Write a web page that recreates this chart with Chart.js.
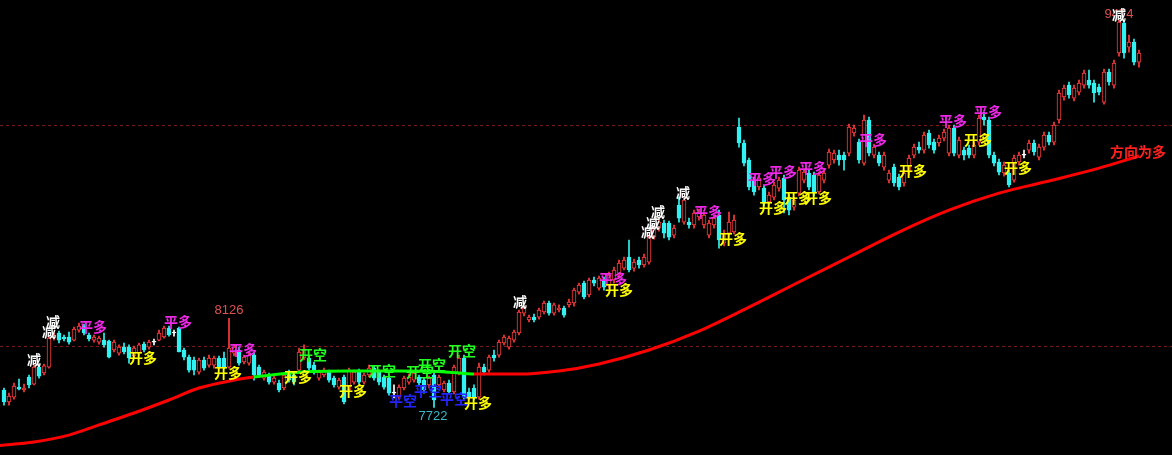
<!DOCTYPE html>
<html>
<head>
<meta charset="utf-8">
<script src="https://cdn.jsdelivr.net/npm/chart.js@4"></script>
<style>
  html, body { margin: 0; padding: 0; background: #000; overflow: hidden; }
</style>
</head>
<body>
<canvas id="kline" width="1172" height="455"></canvas>
<script>
// K线数据 (开/高/低/收)
const opens = [
  7801,7747,7769,7814,7801,7860,7828,7905,7878,7905, 8036,8059,8041,8041,8027,8072,8090,8050,8027,8018,
  8027,8023,7982,7968,7995,7995,7955,7968,8009,7995, 8018,8027,8041,8081,8059,8081,7982,7950,7937,7882,
  7937,7914,7914,7946,7946,7905,7968,7982,7928,7923, 7959,7905,7855,7869,7837,7833,7810,7882,7869,7891,
  7946,7946,7914,7855,7869,7882,7855,7814,7860,7801, 7837,7882,7837,7869,7900,7882,7860,7855,7787,7769,
  7810,7837,7846,7860,7846,7824,7869,7824,7801,7833, 7792,7878,7946,7792,7810,7769,7905,7891,7959,7959,
  8014,7995,8027,8059,8149,8118,8131,8131,8154,8195, 8149,8163,8172,8186,8195,8244,8285,8231,8299,8262,
  8299,8276,8299,8321,8353,8403,8353,8389,8367,8380, 8493,8534,8557,8557,8502,8638,8561,8561,8548,8584,
  8548,8502,8548,8593,8466,8511,8516,8991,8919,8842, 8751,8720,8715,8652,8674,8715,8760,8674,8629,8692,
  8751,8783,8774,8697,8751,8819,8842,8864,8864,8873, 8964,8923,8828,9023,8864,8864,8810,8751,8810,8765,
  8738,8787,8864,8900,8887,8964,8923,8919,8941,8873, 8986,8864,8887,8896,8864,8923,9036,9023,8864,8833,
  8783,8783,8751,8833,8864,8887,8919,8855,8900,8955, 8923,9023,9127,9181,9122,9149,9181,9204,9190,9172,
  9104,9240,9181,9326,9462,9353,9376,9285
];
const highs = [
  7810,7787,7833,7851,7828,7869,7914,7919,7919,8045, 8059,8068,8050,8063,8086,8104,8100,8059,8050,8045,
  8059,8027,8027,8005,8014,8005,8000,8014,8018,8027, 8032,8072,8090,8090,8072,8086,7991,7959,7950,7946,
  7950,7959,7955,7955,7973,8126,8005,7995,7959,7973, 7968,7914,7891,7878,7864,7846,7878,7891,7878,7991,
  8005,7955,7928,7891,7900,7891,7864,7855,7869,7900, 7891,7896,7878,7914,7910,7891,7869,7864,7824,7824,
  7864,7873,7887,7869,7855,7864,7882,7869,7842,7846, 7914,7959,7959,7810,7824,7923,7919,7959,7982,8027,
  8050,8045,8072,8163,8181,8140,8145,8172,8204,8204, 8195,8186,8181,8213,8262,8285,8294,8308,8312,8317,
  8312,8335,8357,8389,8403,8480,8394,8403,8416,8502, 8548,8575,8570,8566,8548,8674,8674,8579,8615,8620,
  8606,8570,8593,8615,8525,8606,8593,9032,8932,8851, 8765,8774,8729,8697,8742,8765,8774,8688,8674,8810,
  8801,8796,8787,8787,8796,8891,8887,8887,8878,9005, 9000,8937,9045,9036,8914,8878,8878,8796,8824,8778,
  8796,8864,8914,8923,8968,8977,8937,8955,8982,9000, 9000,8946,8900,8910,8923,9045,9059,9036,8878,8846,
  8833,8796,8864,8878,8887,8932,8932,8914,8968,8968, 9014,9158,9181,9195,9181,9204,9249,9249,9204,9186,
  9253,9253,9294,9474,9474,9407,9389,9339
];
const lows = [
  7733,7733,7760,7801,7792,7810,7824,7855,7869,7900, 8027,8014,8023,8009,8023,8063,8050,8023,8018,8009,
  7995,7946,7973,7959,7964,7923,7946,7959,7973,7986, 8005,8023,8036,8045,8045,7973,7937,7882,7869,7873,
  7891,7905,7900,7896,7896,7900,7955,7914,7919,7914, 7846,7860,7846,7828,7828,7792,7801,7837,7824,7882,
  7937,7891,7873,7846,7860,7837,7814,7805,7738,7792, 7828,7828,7828,7860,7846,7824,7805,7778,7765,7760,
  7801,7828,7837,7824,7787,7810,7722,7814,7792,7783, 7783,7869,7760,7756,7756,7760,7869,7882,7932,7950,
  8005,7986,8018,8050,8136,8109,8109,8122,8145,8140, 8140,8154,8131,8176,8181,8235,8213,8222,8272,8253,
  8253,8262,8285,8308,8344,8335,8339,8353,8357,8371, 8484,8520,8489,8480,8489,8561,8552,8534,8534,8570,
  8534,8489,8534,8443,8453,8498,8507,8900,8815,8706, 8683,8706,8634,8638,8661,8701,8602,8593,8615,8679,
  8738,8706,8679,8688,8738,8805,8828,8819,8796,8860, 8950,8828,8819,8860,8851,8815,8796,8738,8724,8706,
  8724,8774,8851,8873,8873,8896,8873,8905,8928,8860, 8860,8851,8842,8851,8851,8910,9000,8851,8815,8774,
  8769,8720,8742,8819,8851,8873,8864,8842,8887,8910, 8910,9009,9113,9122,9109,9136,9167,9167,9104,9136,
  9095,9181,9167,9312,9303,9330,9272,9262
];
const closes = [
  7747,7774,7819,7805,7810,7824,7905,7864,7910,8036, 8050,8027,8032,8018,8077,8090,8059,8032,8041,8036,
  8005,7950,8018,7995,7973,7946,7991,8005,7982,8018, 8018,8059,8081,8050,8059,7973,7950,7891,7891,7937,
  7900,7946,7946,7905,7905,7991,7995,7923,7950,7959, 7869,7869,7882,7837,7855,7801,7869,7846,7837,7973,
  7982,7900,7882,7882,7891,7846,7824,7846,7747,7891, 7882,7837,7869,7900,7855,7837,7814,7787,7787,7814,
  7855,7860,7878,7833,7801,7855,7756,7860,7833,7792, 7905,7946,7769,7769,7765,7905,7882,7950,7946,8018,
  8041,8036,8063,8154,8172,8131,8118,8163,8195,8149, 8186,8172,8140,8199,8253,8276,8222,8299,8285,8308,
  8267,8321,8344,8376,8389,8344,8380,8367,8403,8493, 8534,8561,8511,8493,8534,8579,8661,8548,8602,8606,
  8593,8557,8579,8480,8511,8561,8570,8919,8828,8720, 8697,8760,8647,8683,8729,8751,8661,8615,8661,8796,
  8787,8719,8692,8774,8783,8878,8873,8842,8842,8991, 8986,8842,9023,8873,8900,8828,8864,8783,8738,8720,
  8783,8851,8900,8887,8955,8910,8887,8941,8968,8986, 8873,8932,8864,8864,8910,9032,9023,8864,8828,8787,
  8819,8729,8851,8864,8864,8919,8878,8900,8955,8923, 9000,9145,9167,9136,9167,9190,9235,9181,9145,9149,
  9240,9195,9281,9466,9326,9376,9285,9326
];

// 趋势线 (取样点: K线序号 / 数值 / 方向)
const maIndex = [-1, 6, 13, 19, 26, 33, 39, 46, 50, 59, 69, 79, 89, 94, 103, 111, 119, 129, 139, 149, 159, 169, 179, 189, 199, 209, 219, 227];
const maValue = [7550, 7566, 7597, 7643, 7697, 7756, 7810, 7846, 7860, 7882, 7887, 7887, 7882, 7873, 7873, 7887, 7919, 7982, 8068, 8176, 8290, 8403, 8516, 8615, 8692, 8747, 8805, 8860];
const maDir   = ['多','多','多','多','多','多','多','多','空','空','空','空','空','多','多','多','多','多','多','多','多','多','多','多','多','多','多','多'];

// 虚线价位
const gridLevels = [8000, 9000];

// 信号标注 [K线序号, 价位]
const sigJian    = [[6, 7937], [9, 8063], [9.8, 8109], [103.2, 8199], [128.8, 8516], [129.8, 8557], [130.8, 8606], [135.8, 8692], [223, 9498]];
const sigPingDuo = [[17.8, 8086], [34.8, 8109], [47.8, 7982], [121.8, 8303], [140.8, 8606], [151.6, 8756], [155.8, 8787], [161.8, 8805], [173.8, 8932], [189.8, 9018], [196.8, 9059]];
const sigKaiDuo  = [[27.8, 7946], [44.8, 7878], [58.8, 7860], [69.8, 7796], [94.8, 7742], [123, 8253], [145.8, 8484], [153.8, 8624], [158.8, 8670], [162.8, 8670], [181.8, 8792], [194.8, 8932], [202.8, 8805]];
const sigKaiKong = [[61.8, 7959], [75.6, 7887], [83.2, 7882], [85.6, 7914], [91.6, 7977]];
const sigPingKong = [[79.8, 7751], [84.8, 7796], [90, 7760]];

const RED = '#ff3c3c';
const CYAN = '#30f2f2';
const candleColor = i => closes[i] > opens[i] ? RED : (closes[i] < opens[i] ? CYAN : '#ffffff');

const idx = opens.map((_, i) => i);

const signalLabels = {
  id: 'signalLabels',
  afterDatasetsDraw(chart) {
    const { ctx, scales: { x, y } } = chart;
    ctx.save();
    ctx.textAlign = 'center';
    ctx.textBaseline = 'middle';
    const put = (list, text, color, font) => {
      ctx.font = font;
      ctx.fillStyle = color;
      list.forEach(([i, p]) => ctx.fillText(text, x.getPixelForValue(i), y.getPixelForValue(p)));
    };
    const cjk = 'bold 14px "Noto Sans CJK SC"';
    const num = '13px "Liberation Sans"';
    // 最高/最低价
    const hi = highs.indexOf(Math.max(...highs));
    const lo = lows.indexOf(Math.min(...lows));
    put([[45, 8163]], '8126', '#e05050', num);
    put([[lo - 0.2, 7683]], String(lows[lo]), '#3cb8c8', num);
    put([[hi, 9502]], String(highs[hi]), '#e05050', num);
    put(sigJian, '减', '#ffffff', cjk);
    put(sigPingDuo, '平多', '#f028e8', cjk);
    put(sigKaiDuo, '开多', '#ffff00', cjk);
    put(sigKaiKong, '开空', '#20ff20', cjk);
    put(sigPingKong, '平空', '#2424ff', cjk);
    put([[226.8, 8878]], '方向为多', '#ff2020', cjk);
    ctx.restore();
  }
};

const ctx = document.getElementById('kline').getContext('2d');
new Chart(ctx, {
  type: 'bar',
  data: {
    datasets: [
      {
        label: '影线',
        data: idx.map(i => ({ x: i, y: [lows[i], highs[i]] })),
        backgroundColor: c => candleColor(c.dataIndex),
        barThickness: 1,
        grouped: false,
        order: 3
      },
      {
        label: '实体',
        data: idx.map(i => ({ x: i, y: [Math.min(opens[i], closes[i]), Math.max(opens[i], closes[i])] })),
        backgroundColor: c => closes[c.dataIndex] > opens[c.dataIndex] ? '#000000' : candleColor(c.dataIndex),
        borderColor: c => candleColor(c.dataIndex),
        borderWidth: 1,
        borderSkipped: false,
        barThickness: 4,
        minBarLength: 1,
        grouped: false,
        order: 2
      },
      {
        type: 'line',
        label: '趋势',
        data: maIndex.map((v, k) => ({ x: v, y: maValue[k] })),
        borderColor: '#ff0000',
        borderWidth: 3,
        pointRadius: 0,
        cubicInterpolationMode: 'monotone',
        segment: {
          borderColor: c => maDir[c.p0DataIndex] === '空' ? '#00ff00' : '#ff0000'
        },
        order: 1
      }
    ]
  },
  options: {
    responsive: false,
    animation: false,
    devicePixelRatio: 1,
    layout: { padding: 0 },
    plugins: { legend: { display: false }, tooltip: { enabled: false } },
    scales: {
      x: { type: 'linear', min: -0.8, max: 233.6, offset: false, grid: { offset: false }, display: false },
      y: {
        min: 7507,
        max: 9566,
        ticks: { display: false },
        grid: { color: '#7a1c1c', drawTicks: false, lineWidth: 1 },
        border: { display: false, dash: [3, 3] },
        afterBuildTicks: s => { s.ticks = gridLevels.map(v => ({ value: v })); }
      }
    }
  },
  plugins: [signalLabels]
});
</script>
</body>
</html>
